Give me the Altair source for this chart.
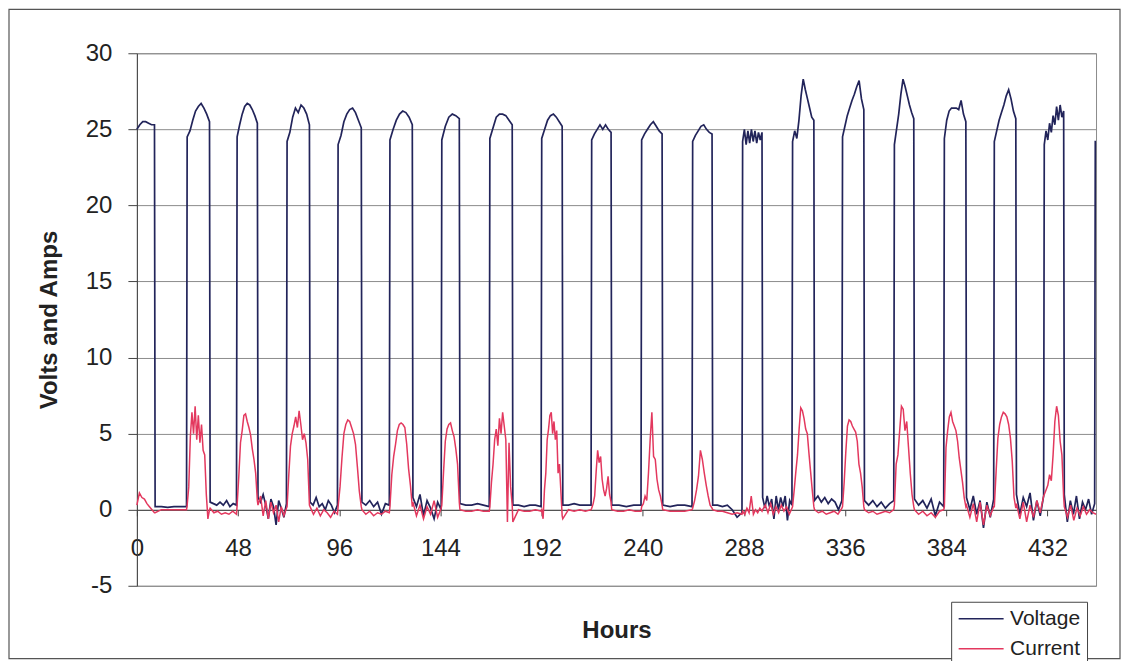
import altair as alt
import numpy as np
import pandas as pd

# Hours at which the voltage rises (day starts) and falls (night starts)
on_hours = [0.0, 23.7, 47.4, 71.1, 95.3, 119.9, 144.5, 167.3, 191.9, 215.6,
            239.3, 263.5, 287.2, 310.9, 334.6, 359.2, 382.9, 406.6, 430.3, 454.5]
off_hours = [8.5, 34.6, 57.3, 82.0, 106.6, 130.8, 153.1, 178.2, 201.9, 225.1,
             249.3, 273.0, 296.7, 321.3, 345.0, 368.7, 393.4, 417.1, 439.8]
end_hour = 455.0

# Voltage readings while high (one list per day)
volt_high = [
    [25.0, 25.3, 25.5, 25.5, 25.4, 25.3, 25.3],
    [24.5, 24.9, 25.6, 26.2, 26.5, 26.7, 26.4, 26.0, 25.5],
    [24.5, 25.3, 26.0, 26.5, 26.7, 26.6, 26.3, 25.9, 25.4],
    [24.2, 24.8, 25.8, 26.4, 26.1, 26.6, 26.4, 26.0, 25.3],
    [24.0, 24.6, 25.5, 26.0, 26.3, 26.4, 26.1, 25.6, 25.1],
    [24.3, 25.0, 25.6, 26.0, 26.2, 26.1, 25.8, 25.3],
    [24.3, 25.2, 25.8, 26.0, 25.9, 25.7],
    [24.4, 25.1, 25.8, 26.0, 26.0, 25.9, 25.6, 25.3],
    [24.4, 25.0, 25.6, 25.9, 26.0, 25.8, 25.5, 25.2],
    [24.3, 24.7, 25.0, 25.3, 25.0, 25.3, 25.0, 24.8],
    [24.3, 24.7, 25.0, 25.3, 25.5, 25.2, 24.9, 24.7],
    [24.2, 24.6, 24.9, 25.2, 25.3, 25.0, 24.8, 24.7],
    [24.2, 25.0, 24.0, 24.9, 24.1, 25.0, 24.2, 24.9, 24.1, 24.8, 24.3, 24.8],
    [24.2, 24.9, 24.4, 25.6, 27.2, 28.3, 27.6, 27.0, 26.4, 25.8, 25.6],
    [24.5, 25.2, 25.9, 26.4, 26.9, 27.3, 27.8, 28.2, 27.0, 26.3],
    [24.0, 25.0, 26.0, 27.3, 28.3, 27.8, 27.2, 26.6, 26.1, 25.7],
    [24.4, 25.6, 26.2, 26.4, 26.4, 26.4, 26.3, 26.9, 26.0, 25.5],
    [24.2, 24.9, 25.6, 26.1, 26.6, 27.2, 27.6, 27.0, 26.2, 25.7],
    [24.0, 24.9, 24.3, 25.4, 24.8, 25.9, 25.3, 26.5, 25.6, 26.6, 25.8, 26.2],
    [24.2, 24.2],
]

# Voltage readings while low (one list per night)
volt_low = [
    [0.2, 0.2, 0.15, 0.2, 0.2, 0.2],
    [0.5, 0.4, 0.3, 0.5, 0.3, 0.6, 0.2, 0.4, 0.3],
    [0.8, 0.5, 1.0, 0.3, -0.6, 0.7, 0.2, -1.0, 0.6, 0.1, -0.5, 0.4],
    [0.5, 0.3, 0.8, 0.2, 0.4, 0.0, 0.6, 0.3, -0.2, 0.3],
    [0.5, 0.3, 0.6, 0.2, 0.5, -0.3, 0.4, 0.3],
    [0.8, 0.2, 1.0, -0.4, 0.6, 0.1, -0.6, 0.5, 0.0],
    [0.4, 0.3, 0.3, 0.4, 0.3, 0.2],
    [0.3, 0.3, 0.2, 0.3, 0.3, 0.2],
    [0.3, 0.3, 0.4, 0.3, 0.3, 0.3],
    [0.3, 0.3, 0.2, 0.3, 0.3],
    [0.3, 0.2, 0.3, 0.3, 0.2],
    [0.3, 0.3, 0.2, 0.3, 0.0, -0.5, -0.2],
    [0.8, 0.1, 0.9, 0.2, 0.7, -0.6, 0.9, 0.0, 0.8, 0.2, 0.9, -0.7, 0.6, 0.3],
    [0.6, 0.9, 0.5, 0.8, 0.4, 0.7, 0.5, 0.0, 0.6],
    [0.6, 0.3, 0.6, 0.2, 0.5, 0.1, 0.4, 0.6],
    [0.7, 0.3, 0.6, 0.1, 0.7, -0.4, 0.5, 0.2],
    [0.8, 0.0, 0.9, -0.3, 0.6, -1.2, 0.5, -0.5, 0.7],
    [1.0, -0.3, 0.8, 0.2, 1.1, -0.7, 0.6, -0.4, 0.9],
    [1.0, -0.8, 0.6, -0.3, 0.9, -0.6, 0.5, 0.0, 0.7, -0.3, 0.4],
]

# Current readings during the day (one list per day)
curr_high = [
    [0.3, 1.1, 0.8, 0.7, 0.4, 0.2, 0.0, -0.2],
    [0.3, 1.5, 4.8, 6.4, 5.0, 6.8, 4.6, 6.2, 4.4, 5.6, 3.9, 3.6, 1.0, -0.6, 0.0],
    [0.3, 2.2, 4.4, 5.2, 6.2, 6.3, 5.8, 5.4, 4.9, 4.0, 3.3, 2.4, 0.6],
    [0.2, 2.3, 4.2, 5.0, 5.5, 6.1, 5.4, 6.5, 5.6, 4.6, 5.0, 4.4, 3.3, 0.3],
    [0.2, 1.5, 3.4, 5.0, 5.6, 5.9, 5.8, 5.4, 5.0, 4.3, 2.8, 1.2, 0.2],
    [0.2, 2.3, 3.5, 4.3, 5.2, 5.6, 5.7, 5.6, 5.4, 4.3, 2.7, 1.6, 0.2],
    [0.3, 2.5, 4.5, 5.3, 5.6, 5.7, 5.2, 4.8, 4.0, 3.0, 0.5],
    [0.2, 1.8, 3.0, 4.6, 5.3, 4.2, 6.0, 5.0, 6.4, 5.5, 4.6, -0.8, 4.4, 1.5, 0.3],
    [0.0, -0.6, 1.3, 2.4, 4.6, 5.3, 6.2, 6.4, 5.0, 5.8, 4.6, 5.2, 2.4, 3.0, 1.3, -0.4],
    [0.1, 0.4, 0.9, 2.5, 3.9, 3.1, 3.5, 2.0, 1.3, 0.9, 1.4, 2.2, 1.0, 0.5],
    [0.2, 0.4, 0.9, 0.6, 2.4, 4.6, 6.4, 3.5, 3.3, 2.0, 1.3, 0.9, 0.3],
    [0.1, 0.6, 1.3, 2.2, 3.9, 3.3, 2.4, 1.6, 0.9, 0.3, 0.1],
    [-0.1, -0.3, 0.1, -0.2, 0.9, -0.3, 0.0, -0.2, 0.1, -0.1],
    [0.2, 1.3, 2.5, 3.6, 5.3, 6.7, 6.5, 6.0, 5.3, 5.0, 3.7, 2.5, 1.3, 0.2],
    [0.2, 1.8, 3.8, 5.5, 5.9, 5.8, 5.5, 5.3, 5.1, 4.5, 3.0, 2.4, 1.5, 0.2],
    [0.3, 3.0, 3.6, 5.2, 6.8, 6.6, 5.2, 5.8, 4.1, 2.4, 1.0, 0.2],
    [0.2, 4.1, 5.2, 6.1, 6.4, 5.8, 5.5, 5.2, 4.5, 3.4, 2.6, 1.8, 0.8, 0.2],
    [0.2, 2.5, 4.7, 5.6, 6.1, 6.4, 6.3, 6.1, 5.6, 4.7, 3.2, 0.8, 0.1],
    [1.0, 1.3, 1.6, 2.3, 1.9, 3.6, 5.8, 6.8, 6.2, 4.5, 3.6, 0.8],
]

# Current readings during the night (one list per night)
curr_low = [
    [-0.2, 0.0, 0.0, 0.0, 0.0, 0.0],
    [0.1, -0.2, -0.1, -0.3, -0.2, -0.3, -0.1, -0.3],
    [0.3, 0.9, -0.4, 0.6, -0.6, 0.5, -0.2, 0.3, -0.8, 0.2, -0.4, 0.1],
    [0.2, -0.3, 0.1, -0.4, 0.0, -0.2, -0.5, -0.1, -0.3],
    [0.0, -0.3, -0.1, -0.4, -0.2, -0.3, -0.1, -0.2],
    [0.5, -0.4, 0.3, -0.6, 0.2, -0.3, 0.6, -0.5, 0.1],
    [0.0, -0.1, -0.1, 0.0, -0.1, -0.1],
    [-0.8, 0.0, -0.1, -0.1, 0.0, -0.1],
    [-0.6, 0.0, -0.1, 0.0, -0.1, 0.0],
    [0.0, -0.1, -0.1, 0.0, -0.1, -0.1],
    [0.0, -0.1, -0.1, -0.1, 0.0],
    [0.0, -0.1, -0.1, -0.2, -0.3, -0.2, -0.3],
    [0.0, 0.3, -0.2, 0.4, -0.3, 0.2, -0.2, 0.3, -0.1, 0.2, -0.3, 0.1],
    [0.0, -0.2, -0.1, -0.3, -0.2, -0.1, -0.3, 0.1],
    [0.0, -0.2, -0.1, -0.3, -0.2, -0.1, -0.2, 0.0],
    [0.0, -0.3, -0.1, -0.4, -0.2, -0.5, -0.1, 0.0],
    [0.3, -0.5, 0.4, -0.8, 0.5, -1.0, 0.3, -0.4, 0.2],
    [0.4, -0.6, 0.5, -0.8, 0.3, -0.5, 0.6, -0.2, 0.9],
    [0.2, -0.5, 0.3, -0.7, 0.1, -0.4, 0.2, -0.3, 0.0, -0.2, -0.3],
]

x_ticks = [0, 48, 96, 144, 192, 240, 288, 336, 384, 432]
y_ticks = [-5, 0, 5, 10, 15, 20, 25, 30]
series_names = ["Voltage", "Current"]
series_colors = ["#22245a", "#e3385e"]


def build(segments, name):
    hs, vs = [], []
    for a, b, vals in segments:
        pad_a = 0.0 if a == 0 else 0.15
        pad_b = 0.0 if b >= end_hour else 0.15
        hs.extend(np.linspace(a + pad_a, b - pad_b, len(vals)).tolist())
        vs.extend(vals)
    return pd.DataFrame({"h": hs, "v": vs, "series": name, "i": range(len(hs))})


v_segments = []
c_segments = []
for k in range(len(off_hours)):
    nxt = on_hours[k + 1]
    v_segments.append((on_hours[k], off_hours[k], volt_high[k]))
    v_segments.append((off_hours[k], nxt, volt_low[k]))
    c_segments.append((on_hours[k], off_hours[k], curr_high[k]))
    c_end = nxt if k < len(off_hours) - 1 else end_hour
    c_segments.append((off_hours[k], c_end, curr_low[k]))
v_segments.append((on_hours[-1], end_hour, volt_high[-1]))

volt_df = build(v_segments, "Voltage")
curr_df = build(c_segments, "Current")

FONT = "Liberation Sans"

x_enc = alt.X(
    "h:Q",
    scale=alt.Scale(domain=[0, end_hour], nice=False, zero=False),
    axis=alt.Axis(
        values=x_ticks, title="Hours", offset=-76, grid=False, tickSize=6,
        labelPadding=21, labelFlush=False, labelOverlap=False, labelFontSize=24,
        titleFontSize=24, titleFontWeight="bold", titlePadding=58,
        domainColor="#444444", tickColor="#444444", labelColor="#222222",
        titleColor="#222222",
    ),
)
y_enc = alt.Y(
    "v:Q",
    scale=alt.Scale(domain=[-5, 30], nice=False),
    axis=alt.Axis(
        values=y_ticks, title="Volts and Amps", grid=True, gridColor="#8c8c8c",
        tickSize=9, labelPadding=16, labelFontSize=24, titleFontSize=24,
        titleFontWeight="bold", titlePadding=24, domainColor="#444444",
        tickColor="#444444", labelColor="#222222", titleColor="#222222",
        labelExpr="datum.value",
    ),
)
color_enc = alt.Color(
    "series:N",
    scale=alt.Scale(domain=series_names, range=series_colors),
    legend=alt.Legend(
        title=None, orient="none", legendX=815, legendY=549,
        symbolType="M-2.25,0H2.25", symbolSize=400, symbolStrokeWidth=1.6,
        symbolOffset=13, labelFontSize=21, labelColor="#222222",
        strokeColor="#444444", fillColor="white", padding=6, rowPadding=9,
        labelOffset=18,
    ),
)

volt_line = alt.Chart(volt_df).mark_line(strokeWidth=1.7).encode(
    x=x_enc, y=y_enc, color=color_enc, order="i:Q"
)
curr_line = alt.Chart(curr_df).mark_line(strokeWidth=1.5).encode(
    x=x_enc, y=y_enc, color=color_enc, order="i:Q"
)
frame = alt.Chart(pd.DataFrame({"a": [0]})).mark_rect(
    fill=None, stroke="#555555", strokeWidth=1.2, clip=False
).encode(
    x=alt.value(-128), x2=alt.value(984), y=alt.value(-44), y2=alt.value(606)
)

chart = (
    alt.layer(frame, volt_line, curr_line)
    .properties(
        width=960, height=533,
        autosize=alt.AutoSizeParams(type="none"),
        padding={"left": 129, "top": 45, "right": 25, "bottom": 75},
        background="white",
    )
    .configure(font=FONT)
    .configure_view(stroke="#8c8c8c", strokeWidth=1)
)

chart.save("out.html", embed_options={"renderer": "svg", "actions": False})
